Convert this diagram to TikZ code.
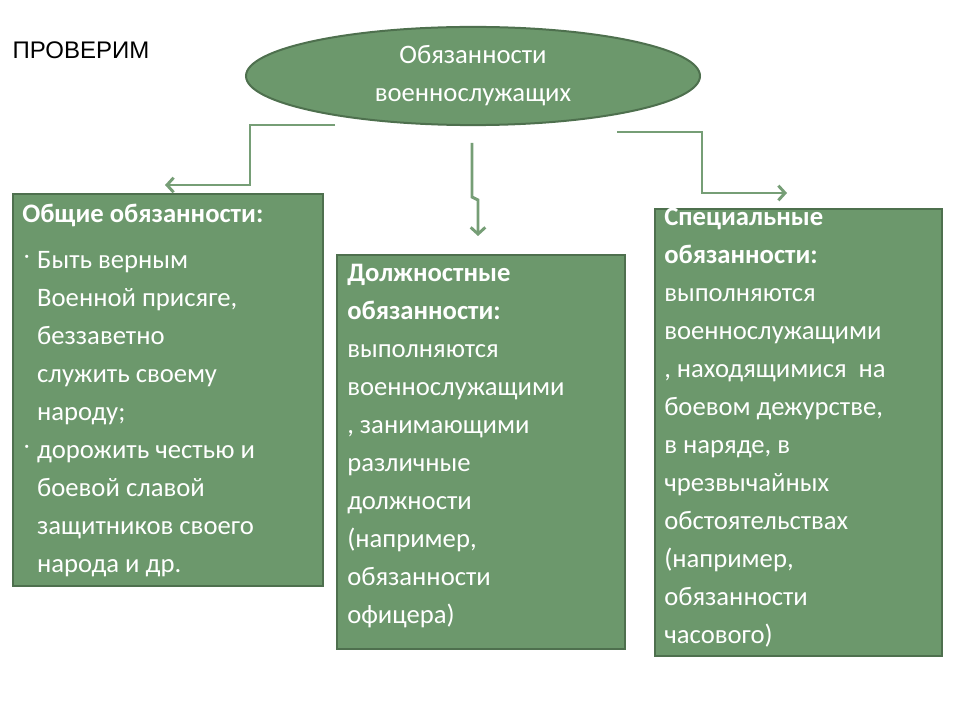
\documentclass[tikz,border=0pt]{standalone}
\usepackage{fontspec}
\setmainfont{Carlito}
\newfontfamily\headfont{Liberation Sans}
\usetikzlibrary{positioning}
\usetikzlibrary{shapes.geometric}
\usetikzlibrary{arrows.meta}
\definecolor{leaf}{RGB}{108,152,108}
\definecolor{moss}{RGB}{78,112,78}
\definecolor{stem}{RGB}{118,158,118}
\begin{document}
\begin{tikzpicture}[
    x=0.75pt, y=-0.75pt,
    >={Straight Barb[length=5pt,width=11pt]},
    % node styles
    box/.style = {
      draw=moss,
      line width=1.5pt,
      fill=leaf,
      anchor=north west,
      inner sep=0pt
    },
    txt/.style = {
      anchor=north west,
      align=left,
      inner sep=0pt,
      font=\fontsize{20}{28.5}\selectfont,
      text=white
    },
    oval/.style = {
      ellipse,
      draw=moss,
      line width=1.5pt,
      fill=leaf,
      minimum width=340.5pt,
      minimum height=72pt,
      align=center,
      font=\fontsize{20}{28.5}\selectfont,
      text=white
    },
    % arrow styles
    arr/.style = {->, line width=2.2pt, draw=stem}
  ]

  \useasboundingbox (0,0) rectangle (960,720);

  % --- Title
  \node[anchor=west, font=\headfont\fontsize{18}{20}\selectfont] (check) at (8,50) {ПРОВЕРИМ};

  % --- Top oval
  \node[oval] (duty) at (473,76) {Обязанности\\военнослужащих};

  % --- Boxes
  \node[box, minimum width=232.5pt, minimum height=294pt] (gen) at (12,193) {};
  \node[box, minimum width=216pt, minimum height=295.5pt] (post) at (336,254) {};
  \node[box, minimum width=215.25pt, minimum height=335.25pt] (spec) at (654,208) {};

  % --- Box texts
  \node[txt] (gentitle) at (22,204) {\textbf{Общие обязанности:}};
  \node[txt] (genlist) at (24,242) {%
    \begin{tabular}{@{}l@{\hspace{6pt}}l@{}}
    \raisebox{8pt}{\tiny$\bullet$} & Быть верным\\
     & Военной присяге,\\
     & беззаветно\\
     & служить своему\\
     & народу;\\
    \raisebox{8pt}{\tiny$\bullet$} & дорожить честью и\\
     & боевой славой\\
     & защитников своего\\
     & народа и др.
    \end{tabular}};
  \node[txt] (posttext) at (347,264) {\textbf{Должностные}\\\textbf{обязанности:}\\выполняются\\военнослужащими\\, занимающими\\различные\\должности\\(например,\\обязанности\\офицера)};
  \node[txt] (spectext) at (664,208) {\textbf{Специальные}\\\textbf{обязанности:}\\выполняются\\военнослужащими\\, находящимися~ на\\боевом дежурстве,\\в наряде, в\\чрезвычайных\\обстоятельствах\\(например,\\обязанности\\часового)};

  % --- Connectors
  \coordinate (leftstart) at (335,125);
  \coordinate (midstart) at (472,143);
  \coordinate (rightstart) at (617,132);
  \coordinate (leftend) at (165,185);
  \coordinate (midend) at (478,236);
  \coordinate (rightend) at (787,193);
  \draw[arr] (leftstart) -- (250,125) -- (250,185) -- (leftend);
  \draw[arr] (midstart) -- (472,197) -- (478,200) -- (midend);
  \draw[arr] (rightstart) -- (702,132) -- (702,193) -- (rightend);
\end{tikzpicture}
\end{document}
